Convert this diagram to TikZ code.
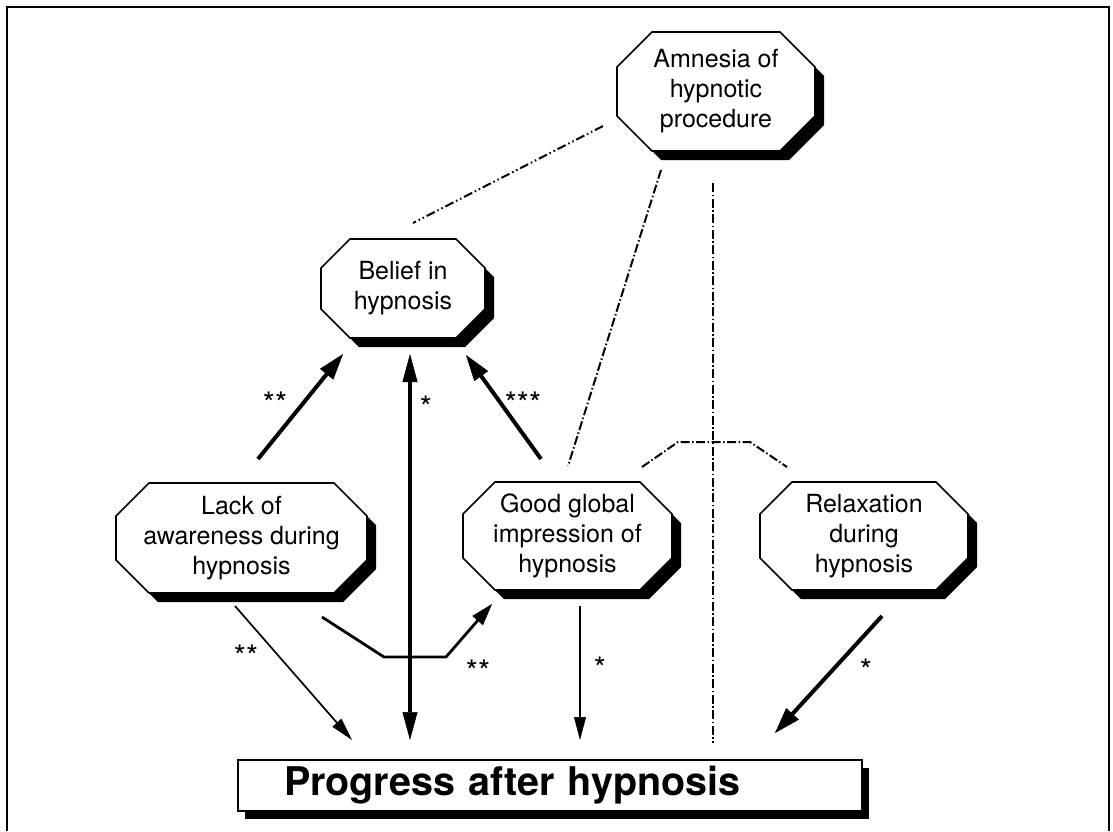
\documentclass[tikz,border=0pt]{standalone}
\usepackage{fontspec}
\setmainfont{TeX Gyre Heros}
\usetikzlibrary{arrows.meta,shadows,calc}
\makeatletter
\pgfkeys{/pgf/octo cut/.initial=30pt}
\pgfdeclareshape{octo}{%
  \inheritsavedanchors[from=rectangle]%
  \inheritanchorborder[from=rectangle]%
  \inheritanchor[from=rectangle]{center}%
  \inheritanchor[from=rectangle]{north}%
  \inheritanchor[from=rectangle]{south}%
  \inheritanchor[from=rectangle]{east}%
  \inheritanchor[from=rectangle]{west}%
  \inheritanchor[from=rectangle]{north east}%
  \inheritanchor[from=rectangle]{north west}%
  \inheritanchor[from=rectangle]{south east}%
  \inheritanchor[from=rectangle]{south west}%
  \backgroundpath{%
    \pgfmathsetlength\pgfutil@tempdima{\pgfkeysvalueof{/pgf/octo cut}}%
    \edef\oc@c{\the\pgfutil@tempdima}%
    \southwest\edef\oc@xa{\the\pgf@x}\edef\oc@ya{\the\pgf@y}%
    \northeast\edef\oc@xb{\the\pgf@x}\edef\oc@yb{\the\pgf@y}%
    \pgfpathmoveto{\pgfpoint{\oc@xa+\oc@c}{\oc@yb}}%
    \pgfpathlineto{\pgfpoint{\oc@xb-\oc@c}{\oc@yb}}%
    \pgfpathlineto{\pgfpoint{\oc@xb}{\oc@yb-\oc@c}}%
    \pgfpathlineto{\pgfpoint{\oc@xb}{\oc@ya+\oc@c}}%
    \pgfpathlineto{\pgfpoint{\oc@xb-\oc@c}{\oc@ya}}%
    \pgfpathlineto{\pgfpoint{\oc@xa+\oc@c}{\oc@ya}}%
    \pgfpathlineto{\pgfpoint{\oc@xa}{\oc@ya+\oc@c}}%
    \pgfpathlineto{\pgfpoint{\oc@xa}{\oc@yb-\oc@c}}%
    \pgfpathclose
  }%
}
\makeatother
\tikzset{
  frameline/.style={line width=1.8pt},
  octbox/.style={shape=octo, draw, line width=1.6pt, fill=white, align=center,
    outer sep=0pt, inner sep=0pt, font=\fontsize{25pt}{30pt}\selectfont,
    drop shadow={shadow xshift=9pt, shadow yshift=-9pt, fill=black, opacity=1}},
  progbox/.style={draw, line width=1.6pt, fill=white, outer sep=0pt,
    minimum height=51pt, text width=532pt, inner xsep=46pt, inner ysep=0pt, align=left,
    font=\fontsize{39.5pt}{45pt}\selectfont\bfseries,
    drop shadow={shadow xshift=7pt, shadow yshift=-8pt, fill=black, opacity=1}},
  lab/.style={font=\fontsize{31pt}{34pt}\selectfont, inner sep=0pt},
  bdarrow/.style={line width=4pt, -{Triangle[length=26pt,width=17pt,line width=0.5pt]}},
  bdboth/.style={line width=3.4pt, {Triangle[length=28pt,width=15pt,line width=0.5pt]}-{Triangle[length=28pt,width=15pt,line width=0.5pt]}},
  mdarrow/.style={line width=2.8pt, line join=miter, -{Triangle[length=22pt,width=14pt,line width=0.5pt]}},
  wkarrow/.style={line width=1.7pt, -{Triangle[length=23pt,width=12pt,line width=0.5pt]}},
  ddline/.style={line width=2pt, dash pattern=on 9pt off 3pt on 1.5pt off 3pt on 1.5pt off 3pt},
  dline/.style={line width=2pt, dash pattern=on 9pt off 2.5pt on 1.5pt off 2.5pt},
}
\begin{document}
\begin{tikzpicture}[x=1pt,y=-1pt]
\useasboundingbox (0,0) rectangle (1113,831);
\draw[frameline] (7,831) -- (7,7) -- (1109,7) -- (1109,831);

\node[octbox, minimum width=198pt, minimum height=119pt, octo cut=35pt] (amn) at (716,91.5) {Amnesia of\\hypnotic\\procedure};
\node[octbox, minimum width=164pt, minimum height=99pt, octo cut=29pt] (bel) at (403,288.5) {Belief in\\hypnosis};
\node[octbox, minimum width=251pt, minimum height=110pt, octo cut=33pt] (lack) at (241.5,538) {Lack of\\awareness during\\hypnosis};
\node[octbox, minimum width=209pt, minimum height=108pt, octo cut=32pt] (good) at (567.5,536) {Good global\\impression of\\hypnosis};
\node[octbox, minimum width=208pt, minimum height=108pt, octo cut=32pt] (relax) at (864,536) {Relaxation\\during\\hypnosis};
\node[progbox] (prog) at (550,785.5) {Progress after hypnosis};

% dotted relations
\draw[ddline] ($(amn.west)+(-14,34.5)$) -- ($(bel.north)+(10,-16)$);
\draw[dline] ($(amn.south)+(-55,19)$) -- ($(good.north)+(0.5,-16)$);
\draw[dline] ($(amn.south)+(-3,32)$) -- ($(prog.north)+(163,-17)$);
\draw[dline] ($(good.north)+(74.5,-15)$) -- ++(36,-25) -- ++(72,0) -- ($(relax.north)+(-77,-15)$);

% arrows
\draw[bdarrow] ($(lack.north)+(16.5,-24)$) -- ($(bel.south)+(-60,16)$);
\draw[bdboth] ($(prog.north)+(-140,-20)$) -- ($(bel.south)+(7,16)$);
\draw[bdarrow] ($(good.north)+(-26.5,-23)$) -- ($(bel.south)+(63,17)$);
\draw[wkarrow] ($(lack.south)+(-6.5,13)$) -- ($(prog.north)+(-198,-20)$);
\draw[mdarrow] ($(lack.south)+(80.5,24)$) -- ($(lack.south)+(142.5,64)$) -- ($(lack.south)+(204.5,64)$) -- ($(good.south)+(-75.5,14)$);
\draw[wkarrow] ($(good.south)+(12.5,16)$) -- ($(prog.north)+(30,-20)$);
\draw[bdarrow] ($(relax.south)+(18,26)$) -- ($(prog.north)+(225,-27)$);

% labels
\node[lab] (l1) at (275,403) {**};
\node[lab] (l2) at (426,407) {*};
\node[lab] (l3) at (523,403) {***};
\node[lab] (l4) at (246,656) {**};
\node[lab] (l5) at (478,671) {**};
\node[lab] (l6) at (600,668) {*};
\node[lab] (l7) at (866,670) {*};
\end{tikzpicture}
\end{document}
